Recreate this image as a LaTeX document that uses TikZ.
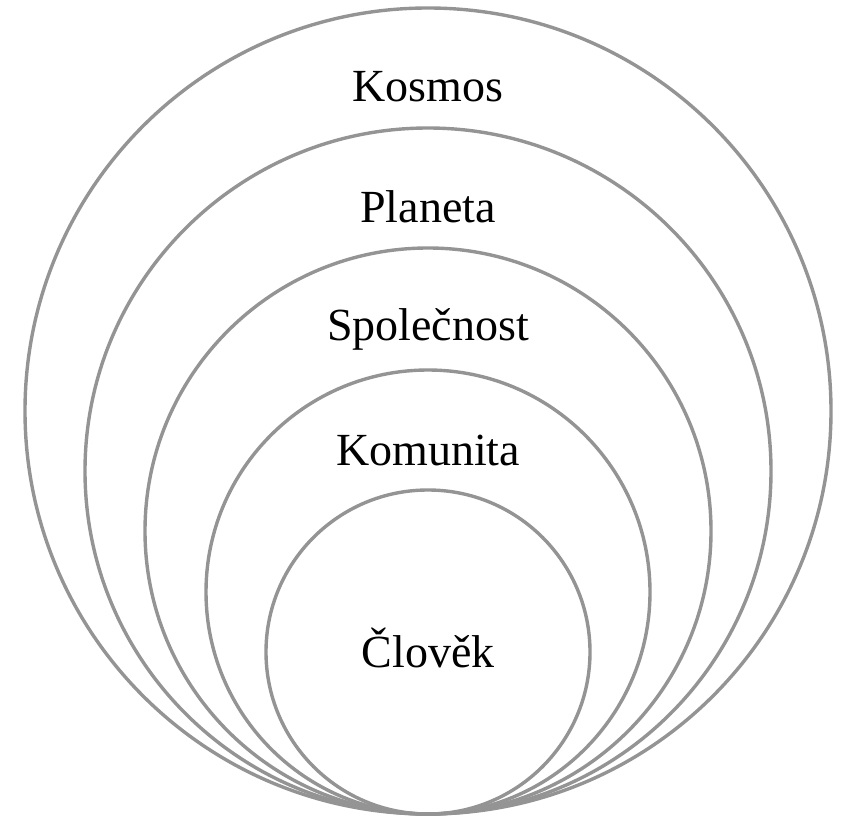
\documentclass[tikz,border=0pt]{standalone}
\usepackage{fontspec}
\setmainfont{Liberation Serif}
\begin{document}
\begin{tikzpicture}[x=1pt,y=-1pt,
  ring/.style={draw=black!42, line width=3.4pt},
  lbl/.style={anchor=base, inner sep=0pt, font=\fontsize{46}{50}\selectfont}]
\useasboundingbox (0,0) rectangle (845,818);
\coordinate (bottom) at (428,814);
\draw[ring] (428,411) circle [radius=403];
\draw[ring] (428,471) circle [radius=343];
\draw[ring] (428,531) circle [radius=283];
\draw[ring] (428,592) circle [radius=222];
\draw[ring] (428,652) circle [radius=162];
\node[lbl] (kosmos) at (428,102) {Kosmos};
\node[lbl] (planeta) at (428,223) {Planeta};
\node[lbl] (spol) at (428,340) {Společnost};
\node[lbl] (komu) at (428,465) {Komunita};
\node[lbl] (clovek) at (428,667) {Člověk};
\end{tikzpicture}
\end{document}
